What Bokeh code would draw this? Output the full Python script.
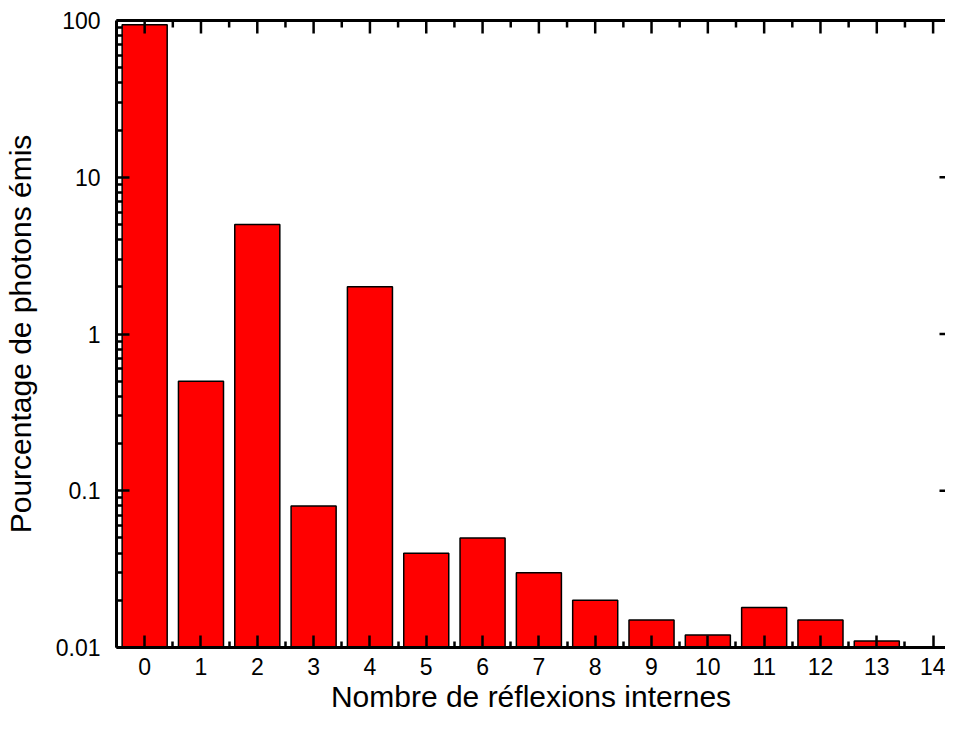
import math
from bokeh.plotting import figure
from bokeh.models import FixedTicker, LinearAxis, Range1d, CustomJSTickFormatter
from bokeh.embed import file_html
from bokeh.resources import INLINE

# Data
reflexions = [0, 1, 2, 3, 4, 5, 6, 7, 8, 9, 10, 11, 12, 13]
pourcentage = [94, 0.5, 5.0, 0.08, 2.0, 0.04, 0.05, 0.03, 0.02, 0.015, 0.012, 0.018, 0.015, 0.011]
x_ticks = list(range(0, 15))
x_minor = [i + 0.5 for i in range(-1, 15)]
y_ticks = [0.01, 0.1, 1, 10, 100]
y_minor = [m * d for d in [0.01, 0.1, 1, 10] for m in range(2, 10)]

FONT = "Liberation Sans"
X_START, X_END = -0.5, 14.22
Y_START, Y_END = 0.01, 100

p = figure(width=945, height=715, y_axis_type="log", output_backend="svg",
           toolbar_location=None, x_range=Range1d(X_START, X_END), y_range=Range1d(Y_START, Y_END),
           min_border_left=112, min_border_right=0, min_border_top=20, min_border_bottom=60)
p.outline_line_color = None
p.grid.visible = False
p.background_fill_color = "white"

p.vbar(x=reflexions, top=pourcentage, bottom=Y_START, width=0.8,
       fill_color="#FF0000", line_color="black", line_width=1.5)

def style(ax):
    ax.axis_line_width = 3
    ax.axis_line_color = "black"
    ax.major_tick_in = 12
    ax.major_tick_out = 0
    ax.minor_tick_in = 6
    ax.minor_tick_out = 0
    ax.major_tick_line_width = 2.5
    ax.minor_tick_line_width = 2.5
    ax.major_tick_line_color = "black"
    ax.minor_tick_line_color = "black"
    ax.major_label_text_font = FONT
    ax.major_label_text_font_size = "23px"
    ax.major_label_text_color = "black"
    ax.axis_label_text_font = FONT
    ax.axis_label_text_font_size = "30px"
    ax.axis_label_text_font_style = "normal"
    ax.axis_label_text_color = "black"

xa = p.xaxis[0]
xa.ticker = FixedTicker(ticks=x_ticks, minor_ticks=x_minor)
xa.axis_label = "Nombre de réflexions internes"
style(xa)
xa.major_label_standoff = 10
xa.axis_label_standoff = 2

ya = p.yaxis[0]
ya.ticker = FixedTicker(ticks=y_ticks, minor_ticks=y_minor)
ya.formatter = CustomJSTickFormatter(code="return tick.toString();")
ya.axis_label = "Pourcentage de photons émis"
style(ya)
ya.major_tick_in = 13
ya.major_label_standoff = 16
ya.axis_label_standoff = 16

# top frame line
top = LinearAxis(ticker=FixedTicker(ticks=[]))
top.axis_line_width = 3
top.axis_line_color = "black"
top.major_tick_line_color = None
top.minor_tick_line_color = None
top.major_label_text_font_size = "1px"
top.major_label_standoff = 0
p.add_layout(top, "above")

TICK_W = 2.5
# inward tick marks on the top edge (pointing down) and right edge (pointing left)
p.ray(x=x_ticks, y=[Y_END] * len(x_ticks), length=13, length_units="screen",
      angle=-math.pi / 2, line_color="black", line_width=TICK_W)
p.ray(x=x_minor, y=[Y_END] * len(x_minor), length=7, length_units="screen",
      angle=-math.pi / 2, line_color="black", line_width=TICK_W)
p.ray(x=[X_END] * len(y_ticks), y=y_ticks, length=6, length_units="screen",
      angle=math.pi, line_color="black", line_width=TICK_W)

open("out.html", "w").write(file_html(p, INLINE))
